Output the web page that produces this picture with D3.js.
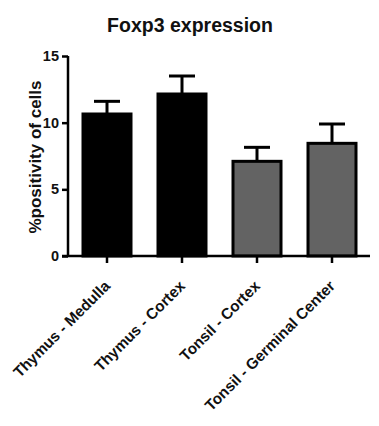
<!DOCTYPE html>
<html>
<head>
<meta charset="utf-8">
<script src="https://cdn.jsdelivr.net/npm/d3@7"></script>
<style>
  html, body { margin: 0; padding: 0; background: #fff; }
  svg { display: block; font-family: "Liberation Sans", Arial, sans-serif; font-weight: bold; }
</style>
</head>
<body>
<svg id="chart" width="379" height="426"></svg>
<script>
const categories = ["Thymus - Medulla", "Thymus - Cortex", "Tonsil - Cortex", "Tonsil - Germinal Center"];
const means = [10.65, 12.15, 7.1, 8.45];
const errors = [0.95, 1.35, 1.05, 1.45];
const fills = ["#000000", "#000000", "#636363", "#636363"];
const yTicks = [0, 5, 10, 15];
const title = "Foxp3 expression";
const yTitle = "%positivity of cells";

const svg = d3.select("#chart");
const x = d3.scaleBand().domain(categories).range([69.5, 369.5]).paddingInner(0.32).paddingOuter(0.16);
const y = d3.scaleLinear().domain([0, 15]).range([256, 56]);

svg.append("text").attr("x", 190).attr("y", 32).attr("text-anchor", "middle")
  .attr("font-size", 19.5).attr("fill", "#111").text(title);

svg.append("text").attr("transform", "translate(41,157) rotate(-90)")
  .attr("text-anchor", "middle").attr("font-size", 17).attr("fill", "#111").text(yTitle);

const data = categories.map((c, i) => ({c, m: means[i], e: errors[i], f: fills[i]}));
const bw = 48;

// error bars
const eb = svg.append("g");
data.forEach(d => {
  const cx = x(d.c) + x.bandwidth() / 2;
  eb.append("line").attr("x1", cx).attr("x2", cx).attr("y1", y(d.m)).attr("y2", y(d.m + d.e))
    .attr("stroke", "#000").attr("stroke-width", 3);
  eb.append("line").attr("x1", cx - 13).attr("x2", cx + 13).attr("y1", y(d.m + d.e)).attr("y2", y(d.m + d.e))
    .attr("stroke", "#000").attr("stroke-width", 3);
});

svg.append("g").selectAll("rect").data(data).join("rect")
  .attr("x", d => x(d.c) + x.bandwidth() / 2 - bw / 2)
  .attr("width", bw)
  .attr("y", d => y(d.m))
  .attr("height", d => y(0) - y(d.m))
  .attr("fill", d => d.f)
  .attr("stroke", "#000").attr("stroke-width", 3);

// y axis
const ya = svg.append("g").attr("transform", "translate(68,0)")
  .call(d3.axisLeft(y).tickValues(yTicks).tickSize(6).tickPadding(3));
ya.select(".domain").attr("stroke", "#000").attr("stroke-width", 2.5).attr("d", "M0,56V257");
ya.selectAll(".tick line").attr("stroke-width", 2.5);
ya.selectAll(".tick text").attr("font-size", 14.5).attr("font-family", "Liberation Sans, Arial, sans-serif")
  .attr("font-weight", "bold").attr("fill", "#111");

// x axis
const xa = svg.append("g").attr("transform", "translate(0,256)")
  .call(d3.axisBottom(x).tickSize(7).tickPadding(3));
xa.select(".domain").attr("stroke", "#000").attr("stroke-width", 2.5).attr("d", "M62,0H370");
xa.selectAll(".tick line").attr("stroke-width", 2.5);
xa.selectAll(".tick text")
  .attr("font-size", 15.3).attr("font-family", "Liberation Sans, Arial, sans-serif")
  .attr("font-weight", "bold").attr("fill", "#111")
  .attr("text-anchor", "end").attr("dy", null).attr("y", null)
  .attr("transform", "translate(4,31) rotate(-45)");
</script>
</body>
</html>
